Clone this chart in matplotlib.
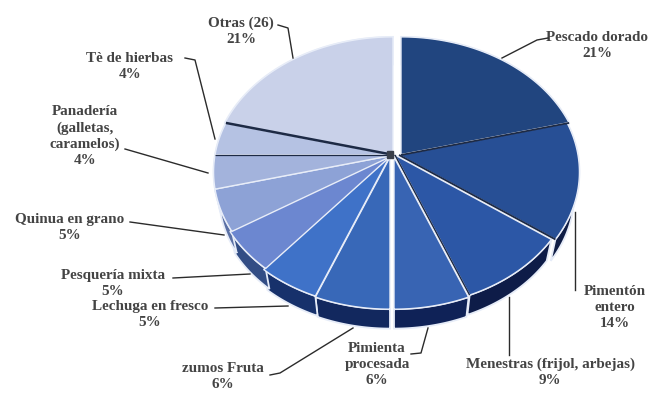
import numpy as np
import matplotlib
matplotlib.use("Agg")
import matplotlib.pyplot as plt

# Shares of each product, clockwise from twelve o'clock
products = ["Pescado dorado", "Pimentón\nentero", "Menestras (frijol, arbejas)",
            "Pimienta\nprocesada", "zumos Fruta", "Lechuga en fresco",
            "Pesquería mixta", "Quinua en grano", "Panadería\n(galletas,\ncaramelos)",
            "Tè de hierbas", "Otras (26)"]
shares = [21, 14, 9, 6, 6, 5, 5, 5, 4, 4, 21]

top_colors = ["#21457f", "#274f95", "#2c57a6", "#3864b3", "#3868b8", "#3f72c8",
              "#6c87d0", "#8da2d6", "#a3b3dc", "#b5c2e3", "#c9d1e9"]
side_colors = ["#14264f", "#0f1d45", "#0e1c48", "#0f2257", "#12285e", "#17316b",
               "#324d85", "#5a70a5", "#8090bb", "#8f9dc4", "#a0accd"]
# Slice pushed away from the centre, in pixels
nudges = [(9, 0), (7, 0), (3, 0), (2, 2), (-2, 2), (-2, 1), (0, 0), (2, 0), (2, 0), (2, 0), (1, 0)]
dark_seams = {0: 1.3, 1: 1.3, 2: 1.0, 8: 0.9, 9: 1.8}

CX, CY = 392, 155
RX, RY, TILT = 179, 133, 0.126
DEPTH, TAPER = 24, 0.97


def project(theta):
    """Tilted disc: maps a clockwise angle (radians from the top) to pixels."""
    s, c = np.cos(theta), np.sin(theta)
    d = 1 + TILT * s
    return RX * c / d, -RY * s / d


def lower(x, y):
    """Same point on the underside of the disc, slightly smaller and lower."""
    return x * TAPER, y * 0.97 + DEPTH


fig = plt.figure(figsize=(6.59, 3.94), dpi=100)
ax = fig.add_axes([0, 0, 1, 1])
ax.set_xlim(0, 659)
ax.set_ylim(394, 0)
ax.axis("off")

edges = 2 * np.pi * np.cumsum([0] + shares) / sum(shares)

# Rim first, so the top faces cover whatever lies behind them
for i in range(len(shares)):
    t = np.linspace(edges[i], edges[i + 1], 80)
    x, y = project(t)
    xb, yb = lower(x, y)
    dx, dy = nudges[i]
    ax.fill(np.r_[x, xb[::-1]] + CX + dx, np.r_[y, yb[::-1]] + CY + dy,
            color=side_colors[i], ec="#e6ecf8", lw=1.3, zorder=2)

# Top faces
for i in range(len(shares)):
    t = np.linspace(edges[i], edges[i + 1], 80)
    x, y = project(t)
    dx, dy = nudges[i]
    ax.fill(np.r_[0, x] + CX + dx, np.r_[0, y] + CY + dy,
            color=top_colors[i], ec="#e8edf8", lw=1.0, zorder=3)

# Seams between neighbouring slices
for i, width in dark_seams.items():
    x, y = project(np.array([edges[i + 1]]))
    dx, dy = nudges[i]
    ax.plot([CX + dx, x[0] + CX + dx], [CY + dy, y[0] + CY + dy],
            color="#1d2a45", lw=width, zorder=4, solid_capstyle="butt")
ax.fill([387, 393, 393, 387], [151, 151, 158, 158], color="#3a3f4a", zorder=5)

# Labels, with their leader lines
label_layout = {
    0: (597, 31, [(502, 58), (537, 40), (548, 38)]),
    1: (615, 285, [(575, 212), (575, 290)]),
    2: (550, 358, [(509, 297), (509, 355)]),
    3: (377, 342, [(428, 328), (421, 353), (411, 354)]),
    4: (223, 362, [(353, 328), (280, 373), (270, 375)]),
    5: (150, 300, [(288, 306), (215, 308)]),
    6: (113, 269, [(250, 274), (173, 278)]),
    7: (70, 213, [(224, 235), (130, 222)]),
    8: (85, 105, [(208, 173), (125, 149)]),
    9: (130, 52, [(215, 139), (195, 60), (185, 58)]),
    10: (241, 17, [(293, 58), (288, 28), (278, 25)]),
}
for i, (tx, ty, leader) in label_layout.items():
    text = f"{products[i]}\n{shares[i]}%"
    ax.text(tx, ty, text, ha="center", va="top", family="Liberation Serif",
            weight="bold", fontsize=10.9, color="#444444", linespacing=1.3,
            zorder=6)
    lx, ly = zip(*leader)
    ax.plot(lx, ly, color="#2b2b2b", lw=1.0, zorder=1 if i in (1, 2) else 6)

fig.savefig("out.png", dpi=100)
